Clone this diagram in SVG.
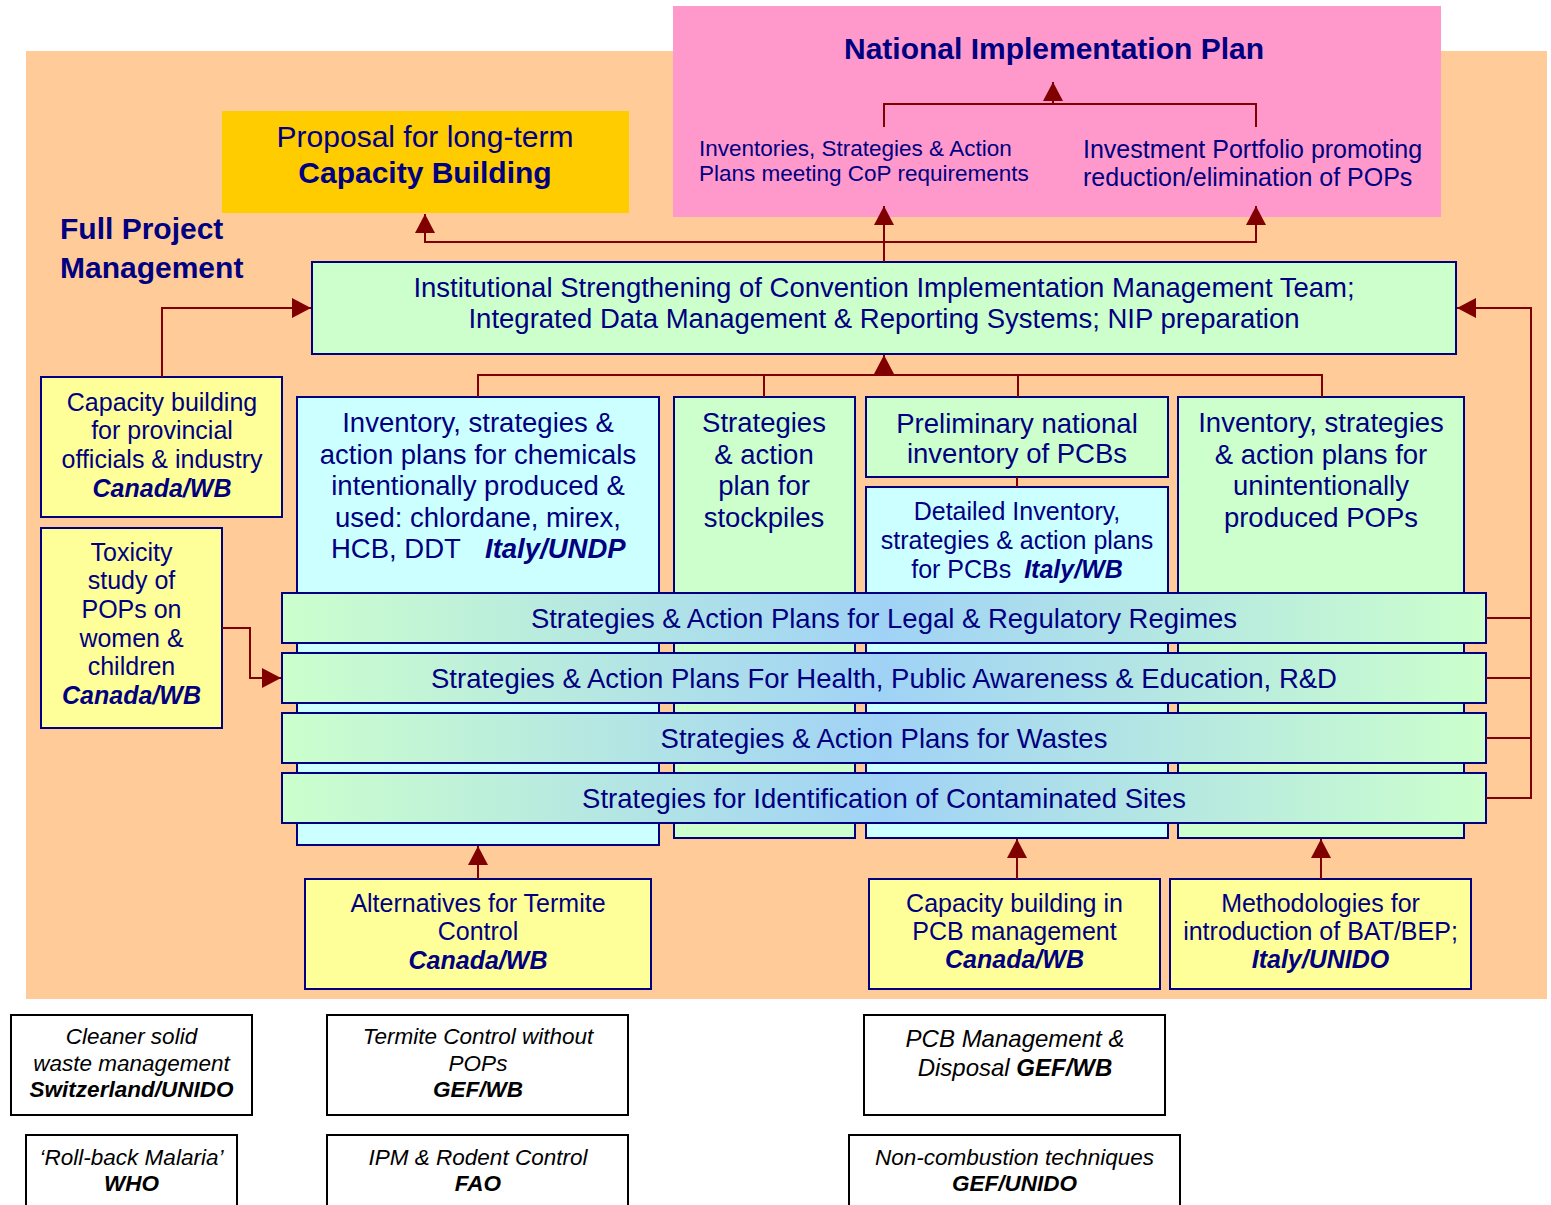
<svg xmlns="http://www.w3.org/2000/svg" width="1551" height="1205" viewBox="0 0 1551 1205">
  <defs>
    <linearGradient id="bandFill" x1="0" y1="0" x2="1" y2="0">
      <stop offset="0" stop-color="#CCFFCC"/>
      <stop offset="0.5" stop-color="#A0D2F6"/>
      <stop offset="1" stop-color="#CCFFCC"/>
    </linearGradient>
    <marker id="arrow" markerUnits="userSpaceOnUse" markerWidth="20" markerHeight="20" refX="19" refY="10" orient="auto">
      <path d="M0,0 L19,10 L0,20 z" fill="#800000"/>
    </marker>
  </defs>
  <style>
    text { font-family: "Liberation Sans", Arial, sans-serif; fill: #000080; }
    .c { text-anchor: middle; }
    .f30 { font-size: 30px; }
    .f27 { font-size: 27.5px; }
    .f25 { font-size: 25px; }
    .f22 { font-size: 22.5px; }
    .f24 { font-size: 24px; }
    .b { font-weight: bold; }
    .bi { font-weight: bold; font-style: italic; }
    .it { font-style: italic; }
    .k { fill: #000000; }
    .green { fill: #CCFFCC; stroke: #000080; stroke-width: 2; }
    .cyan { fill: #CCFFFF; stroke: #000080; stroke-width: 2; }
    .yellow { fill: #FFFF99; stroke: #000080; stroke-width: 2; }
    .band { fill: url(#bandFill); stroke: #000080; stroke-width: 2; }
    .plain { fill: #FFFFFF; stroke: #000000; stroke-width: 2; }
    .wire { fill: none; stroke: #800000; stroke-width: 2; }
  </style>

  <!-- project area background -->
  <rect x="26" y="51" width="1521" height="948" fill="#FFCC99"/>

  <g id="nip">
    <rect x="673" y="6" width="768" height="211" fill="#FF99CC"/>
    <text class="c f30 b" x="1054" y="59">National Implementation Plan</text>
  </g>
  <g id="nip-inventories">
    <text class="f22" x="699" y="156">Inventories, Strategies &amp; Action</text>
    <text class="f22" x="699" y="181">Plans meeting CoP requirements</text>
  </g>
  <g id="nip-investment">
    <text class="f25" x="1083" y="158">Investment Portfolio promoting</text>
    <text class="f25" x="1083" y="186">reduction/elimination of POPs</text>
  </g>

  <g id="proposal">
    <rect x="222" y="111" width="407" height="102" fill="#FFCC00"/>
    <text class="c f30" x="425" y="147">Proposal for long-term</text>
    <text class="c f30 b" x="425" y="183">Capacity Building</text>
  </g>

  <g id="full-project-label">
    <text class="f30 b" x="60" y="239">Full Project</text>
    <text class="f30 b" x="60" y="278">Management</text>
  </g>

  <g id="institutional">
    <rect class="green" x="312" y="262" width="1144" height="92"/>
    <text class="c f27" x="884" y="297">Institutional Strengthening of Convention Implementation Management Team;</text>
    <text class="c f27" x="884" y="328">Integrated Data Management &amp; Reporting Systems; NIP preparation</text>
  </g>

  <g id="chemicals">
    <rect class="cyan" x="297" y="397" width="362" height="448"/>
    <text class="c f27" x="478" y="432">Inventory, strategies &amp;</text>
    <text class="c f27" x="478" y="463.5">action plans for chemicals</text>
    <text class="c f27" x="478" y="495">intentionally produced &amp;</text>
    <text class="c f27" x="478" y="526.5">used: chlordane, mirex,</text>
    <text class="f27" x="331" y="558">HCB, DDT</text>
    <text class="f27 bi" x="485" y="558">Italy/UNDP</text>
  </g>

  <g id="stockpiles">
    <rect class="green" x="674" y="397" width="181" height="441"/>
    <text class="c f27" x="764" y="432">Strategies</text>
    <text class="c f27" x="764" y="463.5">&amp; action</text>
    <text class="c f27" x="764" y="495">plan for</text>
    <text class="c f27" x="764" y="526.5">stockpiles</text>
  </g>

  <g id="pcb-preliminary">
    <rect class="green" x="866" y="397" width="302" height="80"/>
    <text class="c f27" x="1017" y="433">Preliminary national</text>
    <text class="c f27" x="1017" y="463">inventory of PCBs</text>
  </g>

  <g id="pcb-detailed">
    <rect class="cyan" x="866" y="487" width="302" height="351"/>
    <text class="c f25" x="1017" y="520">Detailed Inventory,</text>
    <text class="c f25" x="1017" y="549">strategies &amp; action plans</text>
    <text class="c f25" x="1017" y="578">for PCBs <tspan class="bi" dx="6">Italy/WB</tspan></text>
  </g>

  <g id="unintentional">
    <rect class="green" x="1178" y="397" width="286" height="441"/>
    <text class="c f27" x="1321" y="432">Inventory, strategies</text>
    <text class="c f27" x="1321" y="463.5">&amp; action plans for</text>
    <text class="c f27" x="1321" y="495">unintentionally</text>
    <text class="c f27" x="1321" y="526.5">produced POPs</text>
  </g>

  <g id="band-legal">
    <rect class="band" x="282" y="593" width="1204" height="50"/>
    <text class="c f27" x="884" y="628">Strategies &amp; Action Plans for Legal &amp; Regulatory Regimes</text>
  </g>
  <g id="band-health">
    <rect class="band" x="282" y="653" width="1204" height="50"/>
    <text class="c f27" x="884" y="688">Strategies &amp; Action Plans For Health, Public Awareness &amp; Education, R&amp;D</text>
  </g>
  <g id="band-wastes">
    <rect class="band" x="282" y="713" width="1204" height="50"/>
    <text class="c f27" x="884" y="748">Strategies &amp; Action Plans for Wastes</text>
  </g>
  <g id="band-sites">
    <rect class="band" x="282" y="773" width="1204" height="50"/>
    <text class="c f27" x="884" y="808">Strategies for Identification of Contaminated Sites</text>
  </g>

  <g id="provincial">
    <rect class="yellow" x="41" y="377" width="241" height="140"/>
    <text class="c f25" x="162" y="411">Capacity building</text>
    <text class="c f25" x="162" y="439">for provincial</text>
    <text class="c f25" x="162" y="468">officials &amp; industry</text>
    <text class="c f25 bi" x="162" y="497">Canada/WB</text>
  </g>

  <g id="toxicity">
    <rect class="yellow" x="41" y="528" width="181" height="200"/>
    <text class="c f25" x="131.5" y="561">Toxicity</text>
    <text class="c f25" x="131.5" y="589">study of</text>
    <text class="c f25" x="131.5" y="618">POPs on</text>
    <text class="c f25" x="131.5" y="647">women &amp;</text>
    <text class="c f25" x="131.5" y="675">children</text>
    <text class="c f25 bi" x="131.5" y="704">Canada/WB</text>
  </g>

  <g id="termite-alternatives">
    <rect class="yellow" x="305" y="879" width="346" height="110"/>
    <text class="c f25" x="478" y="912">Alternatives for Termite</text>
    <text class="c f25" x="478" y="940">Control</text>
    <text class="c f25 bi" x="478" y="969">Canada/WB</text>
  </g>

  <g id="pcb-capacity">
    <rect class="yellow" x="869" y="879" width="291" height="110"/>
    <text class="c f25" x="1014.5" y="912">Capacity building in</text>
    <text class="c f25" x="1014.5" y="940">PCB management</text>
    <text class="c f25 bi" x="1014.5" y="968">Canada/WB</text>
  </g>

  <g id="bat-bep">
    <rect class="yellow" x="1170" y="879" width="301" height="110"/>
    <text class="c f25" x="1320.5" y="912">Methodologies for</text>
    <text class="c f25" x="1320.5" y="940">introduction of BAT/BEP;</text>
    <text class="c f25 bi" x="1320.5" y="968">Italy/UNIDO</text>
  </g>

  <g id="solid-waste">
    <rect class="plain" x="11" y="1015" width="241" height="100"/>
    <text class="c f22 it k" x="131.5" y="1044">Cleaner solid</text>
    <text class="c f22 it k" x="131.5" y="1071">waste management</text>
    <text class="c f22 bi k" x="131.5" y="1097">Switzerland/UNIDO</text>
  </g>

  <g id="termite-gef">
    <rect class="plain" x="327" y="1015" width="301" height="100"/>
    <text class="c f22 it k" x="478" y="1044">Termite Control without</text>
    <text class="c f22 it k" x="478" y="1071">POPs</text>
    <text class="c f22 bi k" x="478" y="1097">GEF/WB</text>
  </g>

  <g id="pcb-disposal">
    <rect class="plain" x="864" y="1015" width="301" height="100"/>
    <text class="c f24 it k" x="1015" y="1047">PCB Management &amp;</text>
    <text class="c f24 it k" x="1015" y="1076">Disposal <tspan class="bi">GEF/WB</tspan></text>
  </g>

  <g id="malaria">
    <rect class="plain" x="26" y="1135" width="211" height="90"/>
    <text class="c f22 it k" x="131.5" y="1165">‘Roll-back Malaria’</text>
    <text class="c f22 bi k" x="131.5" y="1191">WHO</text>
  </g>

  <g id="ipm">
    <rect class="plain" x="327" y="1135" width="301" height="90"/>
    <text class="c f22 it k" x="478" y="1165">IPM &amp; Rodent Control</text>
    <text class="c f22 bi k" x="478" y="1191">FAO</text>
  </g>

  <g id="non-combustion">
    <rect class="plain" x="849" y="1135" width="331" height="90"/>
    <text class="c f22 it k" x="1014.5" y="1165">Non-combustion techniques</text>
    <text class="c f22 bi k" x="1014.5" y="1191">GEF/UNIDO</text>
  </g>

  <g id="connectors">
    <!-- NIP components feeding the plan -->
    <path class="wire" d="M884,127 V104 H1256 V127"/>
    <path class="wire" d="M1053,104 V82" marker-end="url(#arrow)"/>
    <!-- institutional box outputs -->
    <path class="wire" d="M884,262 V206" marker-end="url(#arrow)"/>
    <path class="wire" d="M884,242 H1256 V206" marker-end="url(#arrow)"/>
    <path class="wire" d="M884,242 H425 V214" marker-end="url(#arrow)"/>
    <!-- column boxes into institutional box -->
    <path class="wire" d="M478,397 V375 H1322 V397"/>
    <path class="wire" d="M764,375 V397"/>
    <path class="wire" d="M1018,375 V397"/>
    <path class="wire" d="M884,375 V355" marker-end="url(#arrow)"/>
    <path class="wire" d="M1017,477 V487"/>
    <!-- provincial capacity building -->
    <path class="wire" d="M162,377 V308 H311" marker-end="url(#arrow)"/>
    <!-- cross-cutting bands back to institutional box -->
    <path class="wire" d="M1486,618 H1531"/>
    <path class="wire" d="M1486,678 H1531"/>
    <path class="wire" d="M1486,738 H1531"/>
    <path class="wire" d="M1486,798 H1531 V308 H1457" marker-end="url(#arrow)"/>
    <!-- toxicity study into health band -->
    <path class="wire" d="M222,628 H250 V678 H281" marker-end="url(#arrow)"/>
    <!-- bottom support projects -->
    <path class="wire" d="M478,879 V846" marker-end="url(#arrow)"/>
    <path class="wire" d="M1017,879 V839" marker-end="url(#arrow)"/>
    <path class="wire" d="M1321,879 V839" marker-end="url(#arrow)"/>
  </g>
</svg>
